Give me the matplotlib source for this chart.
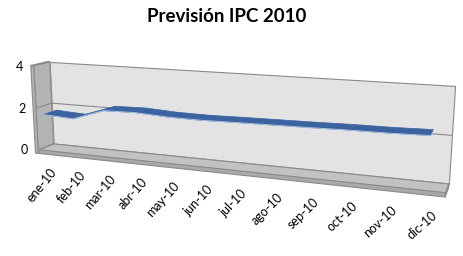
import matplotlib
matplotlib.use("Agg")
import matplotlib.pyplot as plt
from mpl_toolkits.mplot3d.art3d import Poly3DCollection, Line3DCollection

months = ["ene-10", "feb-10", "mar-10", "abr-10", "may-10", "jun-10",
          "jul-10", "ago-10", "sep-10", "oct-10", "nov-10", "dic-10"]
ipc = [1.7, 1.62, 2.12, 2.15, 2.07, 2.05, 2.08, 2.1, 2.12, 2.15, 2.16, 2.2]
z_ticks = [0, 2, 4]

plt.rcParams["font.family"] = ["Lato", "DejaVu Sans"]

fig = plt.figure(figsize=(4.63, 2.56), dpi=100)
ax = fig.add_axes([-0.0194, 0.0076, 1.0, 1.0], projection="3d")
ax.set_axis_off()
ax.computed_zorder = False

n = len(months)
x0, x1 = -0.2, n - 0.55
zmax = z_ticks[-1]
slab = 0.18
wall = 0.1

ax.set_xlim(x0 - wall, x1)
ax.set_ylim(0, 1)
ax.set_zlim(-slab, zmax)
ax.set_box_aspect((360, 25, 80), zoom=1.69)
ax.set_proj_type("persp", focal_length=0.57)
ax.view_init(elev=12.5, azim=-69)

edge = "#8a8a8a"


def add_polys(polys, face, z):
    pc = Poly3DCollection(polys, facecolor=face, edgecolor=edge,
                          linewidth=0.8, zorder=z)
    ax.add_collection3d(pc)
    pc.set_clip_on(False)


add_polys([[(x0, 1, 0), (x1, 1, 0), (x1, 1, zmax), (x0, 1, zmax)]], "#e3e3e3", 1)
add_polys([
    [(x0, 0, 0), (x0, 1, 0), (x0, 1, zmax), (x0, 0, zmax)],
    [(x0 - wall, 0, -slab), (x0, 0, -slab), (x0, 0, zmax), (x0 - wall, 0, zmax)],
    [(x0 - wall, 0, zmax), (x0, 0, zmax), (x0, 1, zmax), (x0 - wall, 1, zmax)],
], "#b3b3b3", 1)
add_polys([[(x0, 0, 0), (x1, 0, 0), (x1, 1, 0), (x0, 1, 0)]], "#c2c2c2", 1)
add_polys([
    [(x0, 0, -slab), (x1, 0, -slab), (x1, 0, 0), (x0, 0, 0)],
    [(x1, 0, -slab), (x1, 1, -slab), (x1, 1, 0), (x1, 0, 0)],
], "#a9a9a9", 1)

grid = []
for t in z_ticks[1:-1]:
    grid.append([(x0, 1, t), (x1, 1, t)])
    grid.append([(x0, 0, t), (x0, 1, t)])
gl = Line3DCollection(grid, colors=edge, linewidths=0.8, zorder=2)
ax.add_collection3d(gl)
gl.set_clip_on(False)

# ribbon
yf, yb = 0.08, 0.92
quads = []
front = []
for i in range(n - 1):
    quads.append([(i, yf, ipc[i]), (i + 1, yf, ipc[i + 1]),
                  (i + 1, yb, ipc[i + 1]), (i, yb, ipc[i])])
    front.append([(i, yf, ipc[i]), (i + 1, yf, ipc[i + 1])])
rb = Poly3DCollection(quads, facecolor="#3a63a0", edgecolor="#3a63a0",
                      linewidth=0.5, zorder=3)
ax.add_collection3d(rb)
rb.set_clip_on(False)
fe = Line3DCollection(front, colors="#a9c1e3", linewidths=0.7, zorder=4)
ax.add_collection3d(fe)
fe.set_clip_on(False)

for t in z_ticks:
    ax.text(x0 - 0.5, 0, t - 0.1, str(t), zdir=None, ha="center", va="center",
            fontsize=9)
for i, m in enumerate(months):
    ax.text(i + 0.15, 0, -slab - 0.55, m, zdir=(1, 0, 1.8), ha="right", va="top",
            rotation_mode="anchor", fontsize=9)

fig.text(0.49, 0.935, "Previsión IPC 2010", ha="center", va="center",
         fontsize=13.5, fontweight="bold")

fig.savefig("out.png", dpi=100)
